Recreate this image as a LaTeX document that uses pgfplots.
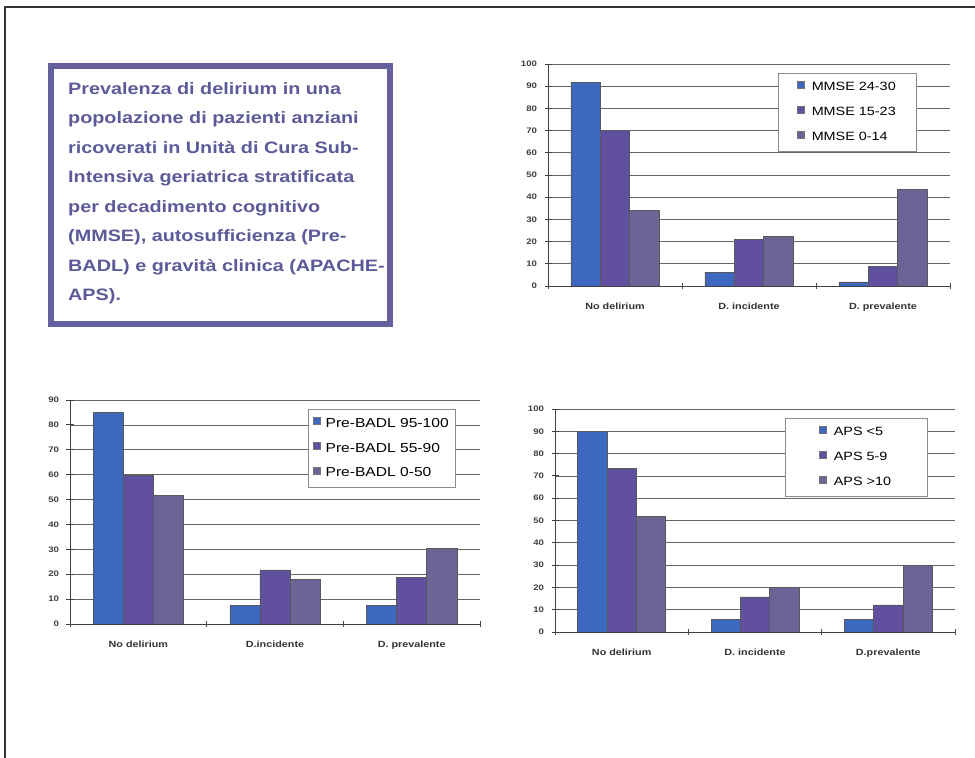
\documentclass[border=0pt]{standalone}
\usepackage{pgfplots}
\pgfplotsset{compat=1.18}
\usepackage{fontspec}
\setmainfont[FakeStretch=1.2]{Liberation Sans}

\definecolor{sA}{HTML}{3D68BF}
\definecolor{sB}{HTML}{6150A0}
\definecolor{sC}{HTML}{6C6497}
\definecolor{titlec}{HTML}{5C5A98}
\definecolor{boxc}{HTML}{66609E}

\pgfplotsset{
  panel/.style={
    scale only axis,
    ybar, bar width=0.22,
    xmin=-0.5, xmax=2.5, ymin=0,
    xtick={0,1,2},
    minor xtick={-0.5,0.5,1.5,2.5},
    axis x line*=bottom, axis y line*=left,
    axis line style={black!75, line width=0.8pt},
    ymajorgrids, grid style={black!60, line width=0.7pt},
    ytick distance=10,
    tick align=center,
    major tick length=7pt, minor tick length=6pt,
    major x tick style={draw=none},
    minor x tick style={black!70, line width=0.6pt},
    major y tick style={black!75, line width=0.8pt},
    /pgf/number format/assume math mode=true,
    yticklabel style={font=\bfseries\fontsize{8}{9}\selectfont, text=black!75, xshift=-4pt},
    xticklabel style={font=\bfseries\fontsize{9}{10}\selectfont, text=black!80, yshift=-10pt},
    legend cell align=left,
    legend image code/.code={\draw[#1, draw=black!55, line width=0.4pt] (0pt,-1pt) rectangle (7pt,6pt);},
    legend style={anchor=north west, draw=black!45, line width=0.8pt, fill=white,
      font=\fontsize{12}{14}\selectfont, row sep=11pt, inner xsep=19pt, inner ysep=7pt,
      /tikz/every odd column/.append style={column sep=5pt}},
    every axis plot/.append style={draw=black!65, line width=0.5pt},
  }
}

\begin{document}
\begin{tikzpicture}
\path[use as bounding box, fill=white] (0pt,0pt) rectangle (975pt,758pt);
% outer frame
\draw[black!80, line width=2pt] (5pt,0pt) -- (5pt,751pt) -- (975pt,751pt);
% title box
\draw[boxc, line width=6pt, fill=white] (51pt,692pt) rectangle (390pt,434pt);
\node[anchor=north west, inner sep=0pt, align=left, text=titlec,
      font=\bfseries\fontsize{16.5}{29.5}\selectfont] at (68pt,676pt)
  {Prevalenza di delirium in una\\
   popolazione di pazienti anziani\\
   ricoverati in Unità di Cura Sub-\\
   Intensiva geriatrica stratificata\\
   per decadimento cognitivo\\
   (MMSE), autosufficienza (Pre-\\
   BADL) e gravità clinica (APACHE-\\
   APS).};

% chart 1: MMSE
\begin{axis}[panel, at={(548pt,472pt)}, anchor=south west, width=402pt, height=222pt,
  ymax=100, xticklabels={No delirium, D. incidente, D. prevalente},
  legend style={at={(0.572,0.959)}}]
\addplot[fill=sA, bar shift=-0.22] coordinates {(0,91.7) (1,6.2) (2,1.8)};
\addplot[fill=sB, bar shift=0] coordinates {(0,70.1) (1,21) (2,9)};
\addplot[fill=sC, bar shift=0.22] coordinates {(0,34.1) (1,22.2) (2,43.4)};
\legend{MMSE 24-30, MMSE 15-23, MMSE 0-14}
\end{axis}

% chart 2: Pre-BADL
\begin{axis}[panel, at={(70pt,134pt)}, anchor=south west, width=410pt, height=224pt,
  ymax=90, xticklabels={No delirium, D.incidente, D. prevalente},
  legend style={at={(0.580,0.96)}, font=\fontsize{13}{15}\selectfont, inner xsep=5pt, row sep=10pt,
    /tikz/every odd column/.append style={column sep=3pt}}]
\addplot[fill=sA, bar shift=-0.22] coordinates {(0,85) (1,7.6) (2,7.6)};
\addplot[fill=sB, bar shift=0] coordinates {(0,59.9) (1,21.7) (2,18.6)};
\addplot[fill=sC, bar shift=0.22] coordinates {(0,51.6) (1,17.8) (2,30.3)};
\legend{Pre-BADL 95-100, Pre-BADL 55-90, Pre-BADL 0-50}
\end{axis}

% chart 3: APS
\begin{axis}[panel, at={(555pt,126pt)}, anchor=south west, width=400pt, height=223pt,
  ymax=100, xticklabels={No delirium, D. incidente, D.prevalente},
  legend style={at={(0.575,0.96)}, inner xsep=34pt}]
\addplot[fill=sA, bar shift=-0.22] coordinates {(0,90.1) (1,5.8) (2,5.8)};
\addplot[fill=sB, bar shift=0] coordinates {(0,73.3) (1,15.7) (2,12.2)};
\addplot[fill=sC, bar shift=0.22] coordinates {(0,51.9) (1,20) (2,29.9)};
\legend{APS <5, APS 5-9, APS >10}
\end{axis}
\end{tikzpicture}
\end{document}
